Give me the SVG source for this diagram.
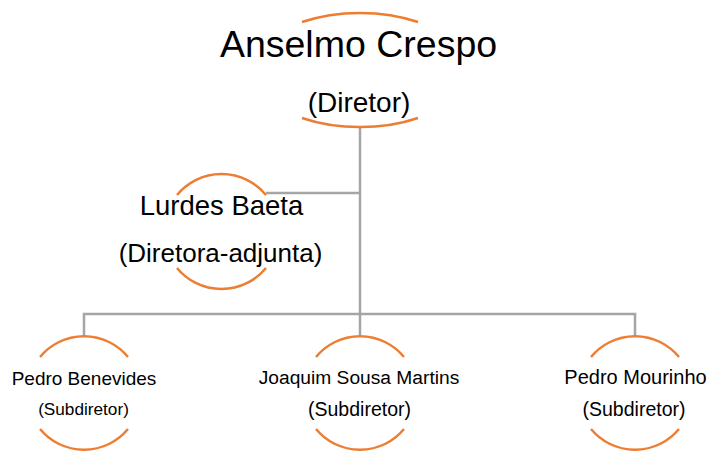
<svg xmlns="http://www.w3.org/2000/svg" width="712" height="452" viewBox="0 0 712 452">
<style>
.arc{fill:none;stroke:#ED7D31;stroke-width:2.5}
.con{fill:none;stroke:#A5A5A5;stroke-width:2.5}
text{font-family:"Liberation Sans",Arial,sans-serif;fill:#000;text-anchor:middle}
</style>
<rect width="712" height="452" fill="#fff"/>
<g id="connectors">
<path class="con" d="M360,127 V314"/>
<path class="con" d="M266,193 H360"/>
<path class="con" d="M84,336 V314 H635 V336"/>
<path class="con" d="M360,314 V336"/>
</g>
<g id="node-anselmo">
<path class="arc" d="M302,22 A107,57 0 0 1 418,22"/>
<path class="arc" d="M302,118 A107,57 0 0 0 418,118"/>
<text x="358.5" y="57" font-size="37.5">Anselmo Crespo</text>
<text x="359" y="112" font-size="28">(Diretor)</text>
</g>
<g id="node-lurdes">
<path class="arc" d="M177,195 A57.5,57.5 0 0 1 266,195"/>
<path class="arc" d="M177,268 A57.5,57.5 0 0 0 266,268"/>
<text x="221.5" y="215" font-size="27.5">Lurdes Baeta</text>
<text x="220.5" y="262" font-size="26">(Diretora-adjunta)</text>
</g>
<g id="node-pedro-benevides">
<path class="arc" d="M40,357 A57,57 0 0 1 128,357"/>
<path class="arc" d="M40,429 A57,57 0 0 0 128,429"/>
<text x="84" y="385" font-size="19">Pedro Benevides</text>
<text x="83.5" y="415" font-size="17.2">(Subdiretor)</text>
</g>
<g id="node-joaquim">
<path class="arc" d="M316,357 A57,57 0 0 1 404,357"/>
<path class="arc" d="M316,429 A57,57 0 0 0 404,429"/>
<text x="359" y="384" font-size="19.2">Joaquim Sousa Martins</text>
<text x="359.5" y="416" font-size="19.5">(Subdiretor)</text>
</g>
<g id="node-pedro-mourinho">
<path class="arc" d="M591,357 A57,57 0 0 1 679,357"/>
<path class="arc" d="M591,429 A57,57 0 0 0 679,429"/>
<text x="635.5" y="384" font-size="20">Pedro Mourinho</text>
<text x="634" y="416" font-size="19.5">(Subdiretor)</text>
</g>
</svg>
